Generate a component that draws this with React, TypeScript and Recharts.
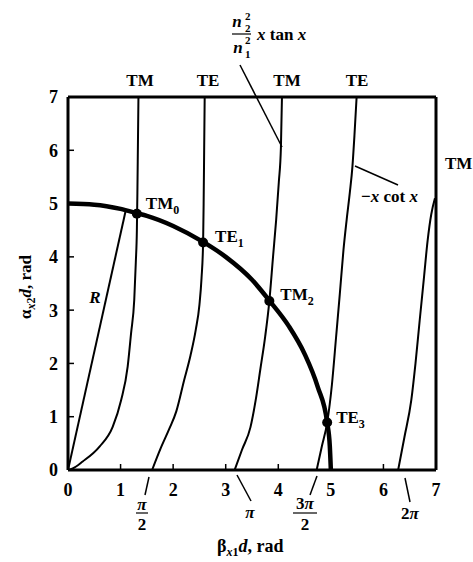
import React from 'react';
import { ComposedChart, Line, Scatter, XAxis, YAxis } from 'recharts';

type Pt = [number, number];

// tick values
const xTicks = [0, 1, 2, 3, 4, 5, 6, 7];
const yTicks = [0, 1, 2, 3, 4, 5, 6, 7];

// circle of radius R = 5
const circlePts: Pt[] = [
  [0, 5], [0.5, 4.98], [1, 4.9], [1.31, 4.82], [1.5, 4.77], [2, 4.58], [2.57, 4.28],
  [3, 4.0], [3.5, 3.57], [3.83, 3.18], [4.2, 2.7], [4.5, 2.18], [4.75, 1.56],
  [4.93, 0.89], [4.98, 0.45], [5.0, 0],
];

// radius line R
const radiusPts: Pt[] = [[0, 0], [1.1, 4.88]];

// TM branch 0 (n2^2/n1^2 x tan x)
const tm0Pts: Pt[] = [
  [0, 0], [0.09, 0.03], [0.28, 0.16], [0.6, 0.44], [0.85, 0.81], [1.01, 1.31],
  [1.135, 1.94], [1.2, 2.57], [1.26, 3.19], [1.29, 3.9], [1.31, 4.5], [1.32, 5.2],
  [1.33, 6.1], [1.34, 7],
];

// TE branch 1 (-x cot x)
const te1Pts: Pt[] = [
  [1.6, 0], [1.76, 0.4], [1.93, 0.78], [2.06, 1.1], [2.21, 1.69], [2.33, 2.15],
  [2.43, 2.63], [2.5, 3.1], [2.54, 3.6], [2.57, 4.27], [2.58, 5.0], [2.59, 6.0], [2.6, 7],
];

// TM branch 2
const tm2Pts: Pt[] = [
  [3.17, 0], [3.31, 0.38], [3.47, 0.8], [3.57, 1.31], [3.66, 1.9], [3.75, 2.5],
  [3.83, 3.17], [3.9, 4.0], [3.96, 4.7], [4.01, 5.4], [4.05, 6.05], [4.07, 7],
];

// TE branch 3
const te3Pts: Pt[] = [
  [4.73, 0], [4.83, 0.45], [4.93, 0.89], [5.02, 1.6], [5.1, 2.5], [5.17, 3.3],
  [5.24, 4.13], [5.3, 4.69], [5.36, 5.2], [5.41, 5.69], [5.45, 6.3], [5.49, 7],
];

// TM branch 4
const tm4Pts: Pt[] = [
  [6.28, 0], [6.4, 0.62], [6.53, 1.31], [6.61, 2.0], [6.69, 2.81], [6.77, 3.6],
  [6.84, 4.3], [6.91, 4.8], [6.98, 5.1],
];

// intersection points (modes)
const modeNames = ['TM', 'TE', 'TM', 'TE'];
const modeSubs = ['0', '1', '2', '3'];
const modeX = [1.31, 2.57, 3.83, 4.93];
const modeY = [4.81, 4.27, 3.17, 0.89];

const toData = (pts: Pt[]) => pts.map(([x, y]) => ({ x, y }));
const modeData = modeX.map((x, i) => ({ x, y: modeY[i], name: modeNames[i], sub: modeSubs[i] }));

const FONT = '"Liberation Serif", "Times New Roman", serif';
const labelOffsets = [
  [9, -5],
  [12, 0],
  [11, -1],
  [9, 0],
];

const ModeDot = (props: any) => {
  const { cx, cy, payload, index } = props;
  const off = labelOffsets[index ?? modeData.indexOf(payload)] || [10, 0];
  return (
    <g>
      <circle cx={cx} cy={cy} r={5} fill="#000" />
      <text
        x={cx + off[0]}
        y={cy + off[1]}
        fontFamily={FONT}
        fontWeight="bold"
        fontSize={17}
        fill="#000"
      >
        {payload.name}
        <tspan fontSize={12} dy={5}>{payload.sub}</tspan>
      </text>
    </g>
  );
};

const tickStyle = { fontFamily: FONT, fontWeight: 'bold', fontSize: 18, fill: '#000' } as any;

export default function App() {
  const thin = { stroke: '#000', strokeWidth: 2, dot: false, isAnimationActive: false } as const;
  return (
    <div style={{ position: 'absolute', left: 0, top: 0, width: 473, height: 562, background: '#fff' }}>
      <ComposedChart
        width={473}
        height={562}
        margin={{ top: 96, right: 36, bottom: 62, left: 38 }}
      >
        <XAxis
          xAxisId="b"
          type="number"
          dataKey="x"
          domain={[0, 7]}
          ticks={xTicks}
          allowDataOverflow
          orientation="bottom"
          height={30}
          axisLine={{ stroke: '#000', strokeWidth: 3 }}
          tickLine={{ stroke: '#000', strokeWidth: 1.5 }}
          tickSize={-6}
          tickMargin={19}
          tick={tickStyle}
          interval={0}
        />
        <XAxis
          xAxisId="t"
          type="number"
          dataKey="x"
          domain={[0, 7]}
          ticks={xTicks}
          allowDataOverflow
          orientation="top"
          height={1}
          axisLine={{ stroke: '#000', strokeWidth: 3 }}
          tickLine={{ stroke: '#000', strokeWidth: 1.5 }}
          tickSize={-6}
          tick={false}
          interval={0}
        />
        <YAxis
          yAxisId="l"
          type="number"
          dataKey="y"
          domain={[0, 7]}
          ticks={yTicks}
          allowDataOverflow
          orientation="left"
          width={30}
          axisLine={{ stroke: '#000', strokeWidth: 3 }}
          tickLine={{ stroke: '#000', strokeWidth: 1.5 }}
          tickSize={-6}
          tickMargin={16}
          tick={tickStyle}
          interval={0}
        />
        <YAxis
          yAxisId="r"
          type="number"
          dataKey="y"
          domain={[0, 7]}
          ticks={yTicks}
          allowDataOverflow
          orientation="right"
          width={1}
          axisLine={{ stroke: '#000', strokeWidth: 3 }}
          tickLine={{ stroke: '#000', strokeWidth: 1.5 }}
          tickSize={-6}
          tick={false}
          interval={0}
        />
        <Line xAxisId="b" yAxisId="l" data={toData(radiusPts)} dataKey="y" type="linear" {...thin} />
        <Line xAxisId="b" yAxisId="l" data={toData(tm0Pts)} dataKey="y" type="monotone" {...thin} />
        <Line xAxisId="b" yAxisId="l" data={toData(te1Pts)} dataKey="y" type="monotone" {...thin} />
        <Line xAxisId="b" yAxisId="l" data={toData(tm2Pts)} dataKey="y" type="monotone" {...thin} />
        <Line xAxisId="b" yAxisId="l" data={toData(te3Pts)} dataKey="y" type="monotone" {...thin} />
        <Line xAxisId="b" yAxisId="l" data={toData(tm4Pts)} dataKey="y" type="monotone" {...thin} />
        <Line
          xAxisId="b"
          yAxisId="l"
          data={toData(circlePts)}
          dataKey="y"
          type="monotone"
          stroke="#000"
          strokeWidth={4.5}
          dot={false}
          isAnimationActive={false}
        />
        <Scatter
          xAxisId="b"
          yAxisId="l"
          data={modeData}
          dataKey="y"
          shape={<ModeDot />}
          isAnimationActive={false}
        />
      </ComposedChart>
      <svg
        width={473}
        height={562}
        style={{ position: 'absolute', left: 0, top: 0, pointerEvents: 'none' }}
        fontFamily={FONT}
        fontWeight="bold"
        fill="#000"
      >
        {/* top mode labels */}
        <text x={140} y={86} fontSize={17} textAnchor="middle">TM</text>
        <text x={208} y={86} fontSize={17} textAnchor="middle">TE</text>
        <text x={287} y={86} fontSize={17} textAnchor="middle">TM</text>
        <text x={357} y={86} fontSize={17} textAnchor="middle">TE</text>
        <text x={445} y={169} fontSize={17}>TM</text>

        {/* n2^2/n1^2 x tan x */}
        <text x={237} y={27} fontSize={17} fontStyle="italic" textAnchor="middle">n</text>
        <text x={245} y={20} fontSize={11}>2</text>
        <text x={245} y={32} fontSize={11}>2</text>
        <line x1={232} y1={34} x2={251} y2={34} stroke="#000" strokeWidth={1.2} />
        <text x={238} y={53} fontSize={17} fontStyle="italic" textAnchor="middle">n</text>
        <text x={245} y={44} fontSize={11}>2</text>
        <text x={245} y={58} fontSize={11}>1</text>
        <text x={257} y={40} fontSize={17}>
          <tspan fontStyle="italic">x</tspan> tan <tspan fontStyle="italic">x</tspan>
        </text>
        <line x1={240} y1={65} x2={282} y2={147} stroke="#000" strokeWidth={1.5} />

        {/* -x cot x */}
        <text x={361} y={202} fontSize={17}>
          −<tspan fontStyle="italic">x</tspan> cot <tspan fontStyle="italic">x</tspan>
        </text>
        <line x1={355} y1={166} x2={398} y2={185} stroke="#000" strokeWidth={1.5} />

        {/* R label */}
        <text x={95} y={303} fontSize={17} fontStyle="italic" textAnchor="middle">R</text>

        {/* pi labels below x axis */}
        <line x1={149} y1={477} x2={145} y2={495} stroke="#000" strokeWidth={1.5} />
        <text x={142} y={510} fontSize={17} fontStyle="italic" textAnchor="middle">π</text>
        <line x1={136} y1={513} x2={148} y2={513} stroke="#000" strokeWidth={1.2} />
        <text x={142} y={530} fontSize={17} textAnchor="middle">2</text>

        <line x1={237} y1={475} x2={251} y2={501} stroke="#000" strokeWidth={1.5} />
        <text x={250} y={518} fontSize={17} fontStyle="italic" textAnchor="middle">π</text>

        <line x1={317} y1={476} x2={310} y2={495} stroke="#000" strokeWidth={1.5} />
        <text x={305} y={509} fontSize={17} textAnchor="middle">
          3<tspan fontStyle="italic">π</tspan>
        </text>
        <line x1={293} y1={513} x2={317} y2={513} stroke="#000" strokeWidth={1.2} />
        <text x={305} y={530} fontSize={17} textAnchor="middle">2</text>

        <line x1={405} y1={478} x2={410} y2={502} stroke="#000" strokeWidth={1.5} />
        <text x={410} y={519} fontSize={17} textAnchor="middle">
          2<tspan fontStyle="italic">π</tspan>
        </text>

        {/* axis titles */}
        <text x={217} y={552} fontSize={18}>
          β<tspan fontSize={12} dy={4} fontStyle="italic">x</tspan>
          <tspan fontSize={12}>1</tspan>
          <tspan dy={-4} fontStyle="italic">d</tspan>, rad
        </text>
        <text transform="translate(31,287) rotate(-90)" fontSize={17} textAnchor="middle">
          α<tspan fontSize={12} dy={4} fontStyle="italic">x</tspan>
          <tspan fontSize={12}>2</tspan>
          <tspan dy={-4} fontStyle="italic">d</tspan>, rad
        </text>
      </svg>
    </div>
  );
}
